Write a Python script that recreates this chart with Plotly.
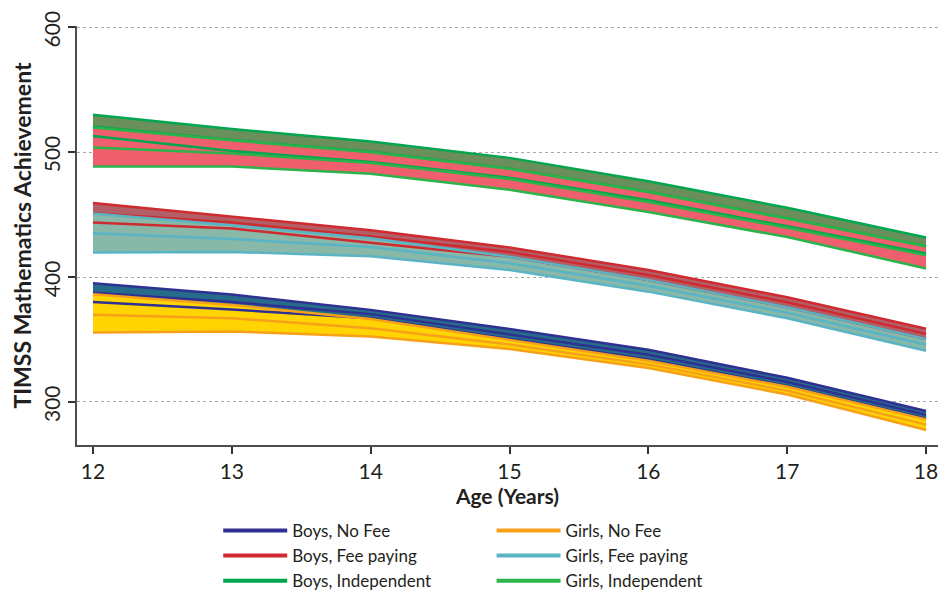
"""
TIMSS mathematics achievement by age, gender and school type.
Each group is drawn as a band (upper / lower) with a centre line.
"""
import plotly.graph_objects as go

ages = [12, 13, 14, 15, 16, 17, 18]

boys_nofee_upper = [395, 386, 373.7, 358.3, 341.8, 319.3, 292.7]
boys_nofee_mid = [387.5, 380, 370.3, 354.3, 337.8, 316, 289.6]
boys_nofee_lower = [380, 374, 367, 350.4, 333.9, 312.6, 286.6]

girls_nofee_upper = [386.2, 377.7, 366.3, 349.8, 333, 312.1, 286]
girls_nofee_mid = [369.7, 367, 359, 346, 330, 309, 281.8]
girls_nofee_lower = [355.6, 356.4, 352.4, 342.4, 327.2, 306, 277.5]

boys_fee_upper = [459.2, 448.6, 437.5, 423.7, 405.6, 383.8, 358.6]
boys_fee_mid = [451, 443.7, 432.5, 420, 401.6, 379.8, 354.5]
boys_fee_lower = [443.6, 438.8, 427.5, 416.2, 397.6, 375.8, 350.4]

girls_fee_upper = [450.8, 441.4, 431, 416.2, 397.6, 375.8, 350.4]
girls_fee_mid = [435, 430.5, 424, 411, 393, 371.4, 345.7]
girls_fee_lower = [419.7, 420.1, 416.7, 405.6, 388.3, 367, 341]

boys_indep_upper = [530, 518.5, 508.6, 495.4, 476.7, 455.5, 431.6]
boys_indep_mid = [520.5, 509.7, 500.3, 486.8, 468.2, 447, 424.7]
boys_indep_lower = [513, 501, 492.2, 479.4, 461.4, 440.6, 418.9]

girls_indep_upper = [519.8, 509.5, 500, 486.6, 468, 446.8, 424.7]
girls_indep_mid = [503.8, 499, 491.3, 478.5, 460, 439.5, 417.5]
girls_indep_lower = [488.4, 488.5, 482.6, 469.9, 452, 432, 406.9]

y_ticks = [300, 400, 500, 600]

_FONT = "Lato, 'Open Sans', sans-serif"
_TEXT = "#231f20"

# name, upper, mid, lower, line colour, fill colour, legend column
_GROUPS = [
    ("Boys, No Fee", boys_nofee_upper, boys_nofee_mid, boys_nofee_lower, "#2e3192", "#276b8a", "legend"),
    ("Girls, No Fee", girls_nofee_upper, girls_nofee_mid, girls_nofee_lower, "#f7a11a", "#ffd400", "legend2"),
    ("Boys, Fee paying", boys_fee_upper, boys_fee_mid, boys_fee_lower, "#cf2a30", "#b35f67", "legend"),
    ("Girls, Fee paying", girls_fee_upper, girls_fee_mid, girls_fee_lower, "#5ab4c4", "#87b8a8", "legend2"),
    ("Boys, Independent", boys_indep_upper, boys_indep_mid, boys_indep_lower, "#00a650", "#6a8f5b", "legend"),
    ("Girls, Independent", girls_indep_upper, girls_indep_mid, girls_indep_lower, "#2cb34a", "#ef5f6e", "legend2"),
]


def add_pair(fig, boys, girls):
    # fills first (boys under girls), then all lines on top
    for g in (boys, girls):
        up, lo, fcol = g[1], g[3], g[5]
        fig.add_trace(
            go.Scatter(
                x=ages + ages[::-1],
                y=up + lo[::-1],
                fill="toself",
                fillcolor=fcol,
                line=dict(width=0),
                mode="lines",
                showlegend=False,
                hoverinfo="skip",
            )
        )
    for g in (boys, girls):
        for ys in (g[1], g[2], g[3]):
            fig.add_trace(
                go.Scatter(
                    x=ages,
                    y=ys,
                    mode="lines",
                    line=dict(color=g[4], width=2.5),
                    showlegend=False,
                )
            )


fig = go.Figure()
add_pair(fig, _GROUPS[0], _GROUPS[1])
add_pair(fig, _GROUPS[2], _GROUPS[3])
add_pair(fig, _GROUPS[4], _GROUPS[5])

# legend-only entries, two columns
for name, up, mid, lo, lcol, fcol, leg in _GROUPS:
    fig.add_trace(
        go.Scatter(
            x=[None],
            y=[None],
            mode="lines",
            name=name,
            legend=leg,
            line=dict(color=lcol, width=4),
        )
    )

_legend_style = dict(
    orientation="v",
    yanchor="top",
    y=-0.162,
    xanchor="left",
    itemwidth=64,
    tracegroupgap=0,
    bgcolor="rgba(0,0,0,0)",
    font=dict(size=17, family=_FONT, color=_TEXT),
)

# page body adds an 8px offset, so the figure is a little smaller than the window
fig.update_layout(
    width=939,
    height=582,
    paper_bgcolor="white",
    plot_bgcolor="white",
    font=dict(family=_FONT, color=_TEXT, size=17),
    margin=dict(l=69, r=9, t=18, b=145, autoexpand=False),
    legend=dict(x=0.164, **_legend_style),
    legend2=dict(x=0.4815, **_legend_style),
    xaxis=dict(
        range=[11.885, 18.086],
        tickvals=ages,
        ticks="outside",
        ticklen=7,
        tickwidth=1.5,
        tickcolor="#333333",
        showline=True,
        linecolor="#4d4d4d",
        linewidth=2,
        showgrid=False,
        zeroline=False,
        tickfont=dict(size=21),
        ticklabeloverflow="allow",
        title=dict(text="<b>Age (Years)</b>", font=dict(size=21), standoff=5),
    ),
    yaxis=dict(
        range=[265.5, 601],
        tickvals=y_ticks,
        tickangle=-90,
        ticks="outside",
        ticklen=7,
        tickwidth=1.5,
        tickcolor="#333333",
        showline=True,
        linecolor="#4d4d4d",
        linewidth=2,
        showgrid=True,
        gridcolor="#aaaaaa",
        griddash="dot",
        gridwidth=1,
        zeroline=False,
        tickfont=dict(size=21),
        ticklabelshift=5,
        ticklabeloverflow="allow",
        title=dict(text="<b>TIMSS Mathematics Achievement</b>", font=dict(size=23), standoff=1),
    ),
)

fig.write_html("out.html")
